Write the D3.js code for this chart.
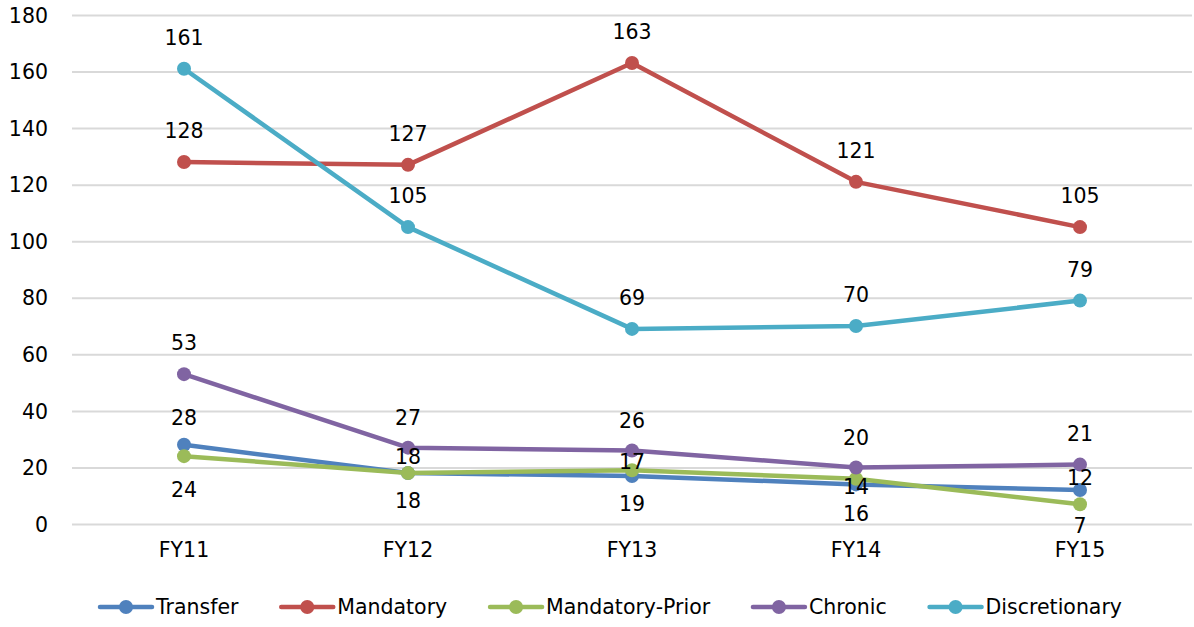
<!DOCTYPE html>
<html>
<head>
<meta charset="utf-8">
<script src="https://cdn.jsdelivr.net/npm/d3@7"></script>
<style>
  html, body { margin: 0; padding: 0; background: #fff; }
  svg { display: block; }
  text { font-family: "DejaVu Sans", sans-serif; fill: #000; }
</style>
</head>
<body>
<svg id="chart" width="1194" height="627"></svg>
<script>
// ---- data ----
const categories = ["FY11", "FY12", "FY13", "FY14", "FY15"];
const yTicks = [0, 20, 40, 60, 80, 100, 120, 140, 160, 180];
const seriesNames = ["Transfer", "Mandatory", "Mandatory-Prior", "Chronic", "Discretionary"];
const transfer = [28, 18, 17, 14, 12];
const mandatory = [128, 127, 163, 121, 105];
const mandatoryPrior = [24, 18, 19, 16, 7];
const chronic = [53, 27, 26, 20, 21];
const discretionary = [161, 105, 69, 70, 79];

// ---- style / layout ----
const colors = ["#4F81BD", "#C0504D", "#9BBB59", "#8064A2", "#4BACC6"];
const fontSize = 20.5;
const labelDy = [
  [-27, -16, -14, 2, -12],
  [-31, -31, -31, -31, -31],
  [34, 28, 34, 35, 22],
  [-31, -30, -30, -30, -31],
  [-31, -31, -31, -31, -31]
];

const values = [transfer, mandatory, mandatoryPrior, chronic, discretionary];
const series = seriesNames.map((name, i) => ({
  name, color: colors[i], dy: labelDy[i],
  points: categories.map((c, j) => ({ c, v: values[i][j], j }))
}));

const svg = d3.select("#chart");
const x = d3.scaleBand().domain(categories).range([72, 1192]);
const y = d3.scaleLinear().domain([0, 180]).range([524, 15]);
const cx = c => x(c) + x.bandwidth() / 2;

// gridlines + y labels
const yAxis = d3.axisLeft(y).tickValues(yTicks).tickSize(-(1192 - 72)).tickPadding(24);
const gy = svg.append("g").attr("transform", "translate(72,0)").call(yAxis);
gy.select(".domain").remove();
gy.selectAll(".tick line").attr("stroke", "#D9D9D9").attr("stroke-width", 2);
gy.selectAll(".tick text").attr("font-size", fontSize).attr("dy", "0.35em").attr("x", -24)
  .attr("font-family", "DejaVu Sans");

// x labels
const xAxis = d3.axisBottom(x).tickSize(0).tickPadding(0);
const gx = svg.append("g").attr("transform", "translate(0,524)").call(xAxis);
gx.select(".domain").remove();
gx.selectAll(".tick text").attr("font-size", fontSize).attr("dy", "0.35em").attr("y", 26)
  .attr("font-family", "DejaVu Sans");

// lines
const line = d3.line().x(d => cx(d.c)).y(d => y(d.v));
const gLines = svg.append("g");
series.forEach(s => {
  gLines.append("path").datum(s.points)
    .attr("fill", "none").attr("stroke", s.color)
    .attr("stroke-width", 4.5).attr("stroke-linejoin", "round").attr("stroke-linecap", "round")
    .attr("d", line);
  gLines.selectAll(null).data(s.points).enter().append("circle")
    .attr("cx", d => cx(d.c)).attr("cy", d => y(d.v)).attr("r", 7)
    .attr("fill", s.color);
});

// labels
const gLabels = svg.append("g");
series.forEach(s => {
  gLabels.selectAll(null).data(s.points).enter().append("text")
    .attr("x", d => cx(d.c)).attr("y", d => y(d.v) + s.dy[d.j])
    .attr("dy", "0.35em").attr("text-anchor", "middle").attr("font-size", fontSize)
    .text(d => d.v);
});

// legend
const legend = svg.append("g");
const lineLen = 52, gapText = 4, legY = 607;
let widths = [];
const tmp = legend.selectAll(null).data(series).enter().append("text")
  .attr("font-size", fontSize).text(d => d.name);
tmp.each(function() { widths.push(this.getComputedTextLength()); });
tmp.remove();
const legLeft = 100, legRight = 1122;
const gapItem = (legRight - legLeft - d3.sum(widths) - series.length * (lineLen + gapText)) / (series.length - 1);
let lx = legLeft;
series.forEach((s, i) => {
  const g = legend.append("g");
  g.append("line").attr("x1", lx).attr("x2", lx + lineLen).attr("y1", legY).attr("y2", legY)
    .attr("stroke", s.color).attr("stroke-width", 4.5).attr("stroke-linecap", "round");
  g.append("circle").attr("cx", lx + lineLen / 2).attr("cy", legY).attr("r", 7).attr("fill", s.color);
  g.append("text").attr("x", lx + lineLen + gapText).attr("y", legY).attr("dy", "0.35em")
    .attr("font-size", fontSize).text(s.name);
  lx += lineLen + gapText + widths[i] + gapItem;
});
</script>
</body>
</html>
